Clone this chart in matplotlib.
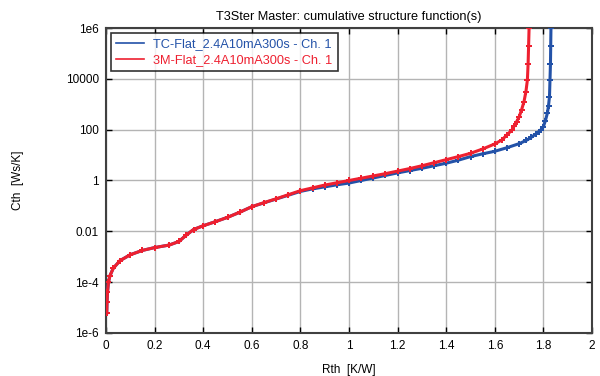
import matplotlib
matplotlib.use("Agg")
import matplotlib.pyplot as plt
import numpy as np

plt.rcParams['font.family'] = ['Liberation Sans', 'DejaVu Sans']

# values (Rth in K/W, Cth as log10 of Ws/K)
tc_rth = [0.003, 0.004, 0.006, 0.01, 0.016, 0.03, 0.058, 0.1, 0.15, 0.2,
          0.26, 0.3, 0.33, 0.36, 0.4, 0.45, 0.5, 0.55, 0.6, 0.65, 0.7,
          0.75, 0.8, 0.85, 0.9, 0.95, 1.0, 1.05, 1.1, 1.15, 1.2, 1.25,
          1.3, 1.35, 1.4, 1.45, 1.5, 1.55, 1.6, 1.65, 1.7, 1.73, 1.75,
          1.77, 1.78, 1.79, 1.8, 1.808, 1.816, 1.821, 1.825, 1.827, 1.829,
          1.83, 1.831]
tc_logc = [-5.2, -4.8, -4.4, -4.0, -3.75, -3.45, -3.15, -2.92, -2.75, -2.64,
           -2.54, -2.40, -2.15, -1.93, -1.78, -1.62, -1.45, -1.25, -1.03, -0.88, -0.73,
           -0.58, -0.43, -0.33, -0.25, -0.17, -0.1, 0.0, 0.1, 0.2, 0.3, 0.39,
           0.48, 0.58, 0.68, 0.8, 0.94, 1.05, 1.15, 1.29, 1.45, 1.58, 1.7,
           1.84, 1.92, 2.0, 2.12, 2.35, 2.64, 2.95, 3.3, 3.95, 4.6,
           5.3, 6.0]

mm_rth = [0.003, 0.004, 0.006, 0.01, 0.016, 0.03, 0.058, 0.1, 0.15, 0.2,
          0.26, 0.3, 0.33, 0.36, 0.4, 0.45, 0.5, 0.55, 0.6, 0.65, 0.7,
          0.75, 0.8, 0.85, 0.9, 0.95, 1.0, 1.05, 1.1, 1.15, 1.2, 1.25,
          1.3, 1.35, 1.4, 1.45, 1.5, 1.55, 1.6, 1.63, 1.65, 1.67, 1.68,
          1.69, 1.70, 1.71, 1.72, 1.728, 1.734, 1.737, 1.739, 1.741]
mm_logc = [-5.2, -4.8, -4.4, -4.0, -3.75, -3.45, -3.15, -2.92, -2.75, -2.64,
           -2.54, -2.40, -2.15, -1.93, -1.78, -1.62, -1.45, -1.25, -1.03, -0.87, -0.72,
           -0.56, -0.40, -0.29, -0.18, -0.09, 0.0, 0.09, 0.18, 0.27, 0.37, 0.47,
           0.58, 0.7, 0.82, 0.94, 1.07, 1.24, 1.44, 1.6, 1.8, 1.98, 2.15,
           2.32, 2.5, 2.78, 3.1, 3.5, 3.95, 4.6, 5.3, 6.0]

tc_label = "TC-Flat_2.4A10mA300s - Ch. 1"
mm_label = "3M-Flat_2.4A10mA300s - Ch. 1"
tc_color = '#2352a8'
mm_color = '#ee2030'

ytick_vals = [1e-6, 1e-4, 1e-2, 1, 1e2, 1e4, 1e6]
ytick_labels = ['1e-6', '1e-4', '0.01', '1', '100', '10000', '1e6']
xtick_vals = [0, 0.2, 0.4, 0.6, 0.8, 1, 1.2, 1.4, 1.6, 1.8, 2]
xtick_labels = ['0', '0.2', '0.4', '0.6', '0.8', '1', '1.2', '1.4', '1.6', '1.8', '2']

fig = plt.figure(figsize=(6, 3.76), dpi=100)
ax = fig.add_axes([0.1767, 0.1144, 0.81, 0.8111])

ax.plot(tc_rth, 10 ** np.array(tc_logc), color=tc_color, lw=2.2,
        marker='P', ms=4, mew=0, label=tc_label, zorder=3)
ax.plot(mm_rth, 10 ** np.array(mm_logc), color=mm_color, lw=2.2,
        marker='P', ms=4, mew=0, label=mm_label, zorder=4)

ax.set_yscale('log')
ax.set_xlim(0, 2)
ax.set_ylim(1e-6, 1e6)
ax.set_yticks(ytick_vals)
ax.set_yticklabels(ytick_labels)
ax.set_xticks(xtick_vals)
ax.set_xticklabels(xtick_labels)
ax.minorticks_off()
ax.tick_params(direction='in', top=True, right=True, length=4, width=1,
               labelsize=8.5, color='black', pad=5)
ax.grid(True, color='#b4b4b4', lw=1)
ax.set_axisbelow(True)
for sp in ax.spines.values():
    sp.set_color('#404040')
    sp.set_linewidth(1.5)

ax.set_xlabel("Rth  [K/W]", fontsize=8.5, labelpad=9)
ax.set_ylabel("Cth  [Ws/K]", fontsize=8.5, labelpad=30)
ax.set_title("T3Ster Master: cumulative structure function(s)", fontsize=9.2, pad=6)

leg = ax.legend(loc='upper left', fontsize=9.2, frameon=True, fancybox=False,
                borderaxespad=0.4, handlelength=2.2, handletextpad=0.7,
                labelspacing=0.3, borderpad=0.4)
leg.get_frame().set_edgecolor('black')
leg.get_frame().set_linewidth(1.2)
for txt, c in zip(leg.get_texts(), [tc_color, mm_color]):
    txt.set_color(c)
for h in leg.legend_handles:
    h.set_marker('')
    h.set_linewidth(1.2)

fig.savefig("out.png", dpi=100)
